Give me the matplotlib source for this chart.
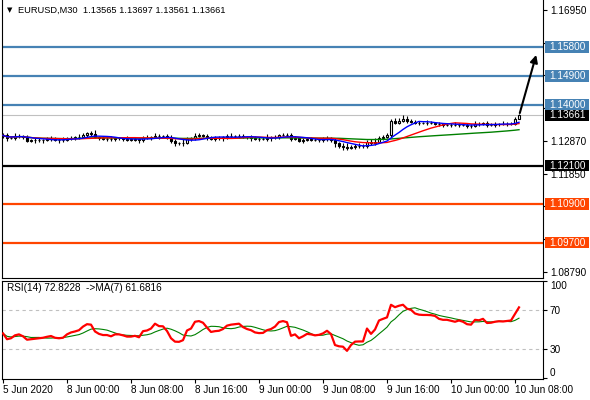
import numpy as np
import pandas as pd
import matplotlib
matplotlib.use('Agg')
import matplotlib.pyplot as plt
from matplotlib.patches import Rectangle

plt.rcParams['font.family'] = ['Liberation Sans', 'DejaVu Sans']

# --- data (EURUSD M30, 5 Jun 16:00 .. 10 Jun 08:30) ---
header = 'EURUSD,M30  1.13565 1.13697 1.13561 1.13661'
rsi_header = 'RSI(14) 72.8228  ->MA(7) 61.6816'

first_open = 1.13010
closes = [
    1.13040, 1.12960, 1.12970, 1.13010, 1.13025, 1.12995, 1.12880, 1.12885, 1.12888, 1.12892,
    1.12900, 1.12920, 1.12935, 1.12905, 1.12885, 1.12895, 1.12950, 1.12965, 1.12975, 1.12995,
    1.13060, 1.13100, 1.13095, 1.12990, 1.12950, 1.12935, 1.12935, 1.12920, 1.12945, 1.12945,
    1.12930, 1.12910, 1.12910, 1.12920, 1.12890, 1.12960, 1.12965, 1.12985, 1.13035, 1.13015,
    1.13012, 1.12960, 1.12860, 1.12800, 1.12795, 1.12815, 1.12930, 1.12955, 1.13030, 1.13045,
    1.13035, 1.12990, 1.12940, 1.12950, 1.12955, 1.12975, 1.13010, 1.13020, 1.13025, 1.13030,
    1.12990, 1.12975, 1.12960, 1.12935, 1.12928, 1.12930, 1.12960, 1.12975, 1.13000, 1.13050,
    1.13065, 1.13055, 1.12930, 1.12945, 1.12880, 1.12895, 1.12915, 1.12910, 1.12898, 1.12905,
    1.12920, 1.12950, 1.12905, 1.12790, 1.12720, 1.12690, 1.12647, 1.12690, 1.12720, 1.12718,
    1.12722, 1.12840, 1.12790, 1.12840, 1.12960, 1.13000, 1.13040, 1.13480, 1.13440, 1.13500,
    1.13551, 1.13489, 1.13470, 1.13440, 1.13430, 1.13420, 1.13428, 1.13420, 1.13410, 1.13380,
    1.13372, 1.13378, 1.13368, 1.13360, 1.13378, 1.13365, 1.13340, 1.13335, 1.13400, 1.13395,
    1.13415, 1.13370, 1.13378, 1.13390, 1.13398, 1.13395, 1.13402, 1.13410, 1.13565, 1.13661,
]
# wick length beyond the body, in pips
wick_up = [
    8, 6, 4, 9, 6, 4, 7, 4, 8, 6, 4, 6, 8, 4, 6, 10, 4, 7, 4, 8,
    6, 4, 7, 10, 4, 6, 4, 8, 6, 4, 6, 8, 4, 6, 4, 7, 10, 4, 8, 6,
    4, 6, 8, 6, 4, 10, 6, 4, 8, 6, 4, 6, 4, 8, 6, 4, 7, 10, 4, 6,
    6, 4, 8, 6, 4, 6, 12, 4, 6, 4, 6, 4, 7, 8, 4, 6, 4, 8, 6, 4,
    6, 8, 4, 6, 4, 7, 10, 4, 6, 8, 4, 6, 8, 12, 6, 4, 6, 8, 10, 8,
    11, 8, 6, 4, 6, 4, 8, 6, 4, 6, 4, 6, 4, 8, 6, 4, 6, 4, 8, 6,
    4, 6, 4, 6, 4, 8, 6, 4, 6, 3.6,
]
wick_dn = [
    6, 8, 4, 6, 4, 8, 6, 4, 7, 4, 8, 4, 6, 4, 8, 6, 4, 6, 8, 4,
    4, 6, 8, 4, 6, 4, 8, 6, 4, 6, 8, 4, 6, 4, 8, 6, 4, 6, 4, 8,
    6, 4, 6, 8, 4, 10, 4, 8, 6, 4, 6, 8, 4, 6, 4, 8, 6, 4, 6, 8,
    4, 6, 8, 4, 6, 4, 6, 8, 4, 6, 4, 8, 6, 4, 6, 8, 4, 6, 4, 6,
    8, 4, 6, 10, 6, 12, 6, 4, 8, 6, 6, 8, 4, 6, 4, 6, 4, 6, 4, 6,
    4, 6, 4, 6, 8, 4, 6, 4, 6, 4, 6, 4, 6, 4, 6, 4, 8, 6, 4, 6,
    4, 6, 4, 8, 6, 4, 6, 4, 6, 0.4,
]
rsi_values = [
    46, 40, 41, 44, 45, 43, 39.5, 40, 40.5, 41,
    41.5, 42.5, 43.3, 41.5, 41, 41.5, 45, 47, 48, 49.3,
    53, 55.5, 55, 48, 45.5, 44.3, 44.3, 43, 45, 45,
    44, 42.7, 42.7, 43.5, 42, 48.3, 49, 51, 56, 53.5,
    53.3, 48.5, 41, 37.5, 37.3, 39, 49, 51, 58, 58.7,
    57, 52, 47.5, 48.3, 48.7, 50.5, 54, 55, 55.5, 56,
    52.5, 50.5, 49.3, 47, 46.3, 46.5, 49.3, 50.5, 53, 57.7,
    58.7, 57.5, 43.5, 45, 41, 43, 45.5, 45, 44, 44.5,
    46, 48.7, 45.3, 34, 32.7, 32.3, 28, 34, 37.5, 37.7,
    37.7, 51, 45.5, 50, 59.3, 61, 62.5, 75.5, 73, 74.5,
    75.5, 71.5, 70.3, 66.5, 65.3, 65, 65, 64.8, 64, 61,
    60, 60, 59, 58, 59.3, 58, 55.5, 55, 60, 59.5,
    61, 56.7, 57, 58, 58.5, 58.3, 58.8, 59.3, 66, 72.82,
]

blue_levels = [1.15800, 1.14900, 1.14000]
black_levels = [1.12100]
orange_levels = [1.10900, 1.09700]
last_price = 1.13661
arrow_target = 1.1555

price_ticks = [1.16950, 1.15930, 1.14910, 1.13890, 1.12870,
               1.11850, 1.10830, 1.09810, 1.08790]
# tick labels that sit under a highlighted level label are left blank
hidden_ticks = [1.15930, 1.14910, 1.13890, 1.10830, 1.09810]
rsi_ticks = [0, 30, 70, 100]
time_labels = ['5 Jun 2020', '8 Jun 00:00', '8 Jun 08:00', '8 Jun 16:00',
               '9 Jun 00:00', '9 Jun 08:00', '9 Jun 16:00', '10 Jun 00:00',
               '10 Jun 08:00']
time_label_bars = [0, 16, 32, 48, 64, 80, 96, 112, 128]

# --- derived series ---
close_s = pd.Series(closes)
opens = [first_open] + closes[:-1]
pip = 0.0001
highs = [max(o, c) + w * pip for o, c, w in zip(opens, closes, wick_up)]
lows = [min(o, c) - w * pip for o, c, w in zip(opens, closes, wick_dn)]
ma_blue = close_s.rolling(8, min_periods=1).mean()
ma_red = close_s.rolling(17, min_periods=1).mean()
ma_green = close_s.rolling(50, min_periods=1).mean()
rsi_ma = pd.Series(rsi_values).rolling(7, min_periods=1).mean()
x = np.arange(len(closes))

W, H = 590, 400
fig = plt.figure(figsize=(W / 100, H / 100), dpi=100)
ax = fig.add_axes([2 / W, 1 - 278 / H, 541 / W, 278 / H])
ax_rsi = fig.add_axes([2 / W, 1 - 379 / H, 541 / W, 98 / H], sharex=ax)

STEEL = '#4682B4'
ORANGE = '#FF4500'
LABEL_FS = 7.2

# horizontal levels
for lv in blue_levels:
    ax.axhline(lv, color=STEEL, lw=1.6, zorder=2)
for lv in black_levels:
    ax.axhline(lv, color='black', lw=1.6, zorder=2)
for lv in orange_levels:
    ax.axhline(lv, color=ORANGE, lw=1.6, zorder=2)
ax.axhline(last_price, color='#C0C0C0', lw=0.8, zorder=1)

# candles
ax.vlines(x, lows, highs, color='black', lw=0.8, zorder=3)
for xi, o, c in zip(x, opens, closes):
    bottom = min(o, c)
    height = max(abs(c - o), 0.00006)
    face = 'white' if c >= o else 'black'
    ax.bar(xi, height, 0.6, bottom, color=face, edgecolor='black',
           linewidth=0.8, zorder=3)

# moving averages
ax.plot(x, ma_green, color='#008000', lw=1.0, zorder=4)
ax.plot(x, ma_red, color='#FF0000', lw=1.0, zorder=4)
ax.plot(x, ma_blue, color='#0000FF', lw=1.0, zorder=4)

# arrow
ax.annotate('', xy=(x[-1] + 4.3, arrow_target), xytext=(x[-1] + 0.2, highs[-1] + 0.0004),
            arrowprops=dict(arrowstyle='-|>', color='black', lw=1.5,
                            mutation_scale=11, shrinkA=0, shrinkB=0), zorder=5)

ax.set_xlim(-0.25, 135)
ax.set_ylim(1.08593, 1.17262)
ax.yaxis.tick_right()
ax.set_yticks(price_ticks)
ax.set_yticklabels(['' if t in hidden_ticks else f'{t:.5f}' for t in price_ticks])
ax.tick_params(axis='y', length=3, width=0.8, pad=2, labelsize=LABEL_FS)
ax.tick_params(axis='x', bottom=False, labelbottom=False)
ax.spines['top'].set_visible(False)
for sp in ['left', 'right', 'bottom']:
    ax.spines[sp].set_linewidth(0.8)

# highlighted price labels on the right
ytr = ax.get_yaxis_transform()
box_h = 0.0036


def price_box(price, color):
    ax.add_patch(Rectangle((1 + 1.5 / 541, price - box_h / 2), 44 / 541, box_h,
                           transform=ytr, facecolor=color, edgecolor='none',
                           clip_on=False, zorder=6))
    ax.text(1 + 6 / 541, price, f'{price:.5f}', transform=ytr, color='white',
            fontsize=LABEL_FS, va='center', ha='left', clip_on=False, zorder=7)


for lv in blue_levels:
    price_box(lv, STEEL)
for lv in orange_levels:
    price_box(lv, ORANGE)
for lv in black_levels:
    price_box(lv, 'black')
price_box(last_price, 'black')

# RSI panel
ax_rsi.axhline(70, color='#C0C0C0', lw=0.8, ls=(0, (3, 3)), zorder=1)
ax_rsi.axhline(30, color='#C0C0C0', lw=0.8, ls=(0, (3, 3)), zorder=1)
ax_rsi.plot(x, rsi_ma, color='#008000', lw=0.8, zorder=2)
ax_rsi.plot(x, rsi_values, color='#FF0000', lw=1.6, zorder=3)
ax_rsi.set_ylim(-1, 100)
ax_rsi.yaxis.tick_right()
ax_rsi.set_yticks(rsi_ticks)
ax_rsi.set_yticklabels([str(t) for t in rsi_ticks])
ax_rsi.tick_params(axis='y', length=3, width=0.8, pad=2, labelsize=LABEL_FS)
labs = ax_rsi.get_yticklabels()
labs[0].set_va('bottom')
labs[-1].set_va('top')
ax_rsi.set_xticks(time_label_bars)
ax_rsi.set_xticklabels(time_labels, ha='left')
ax_rsi.tick_params(axis='x', length=3, width=0.8, pad=1, labelsize=LABEL_FS)
for sp in ax_rsi.spines.values():
    sp.set_linewidth(0.8)

ax_rsi.text(5 / 541, 1 - 7 / 98, rsi_header, transform=ax_rsi.transAxes,
            fontsize=LABEL_FS, va='center', ha='left')

fig.text(7 / W, 1 - 10 / H, '\u25bc', fontsize=5, family='DejaVu Sans',
         va='center', ha='left')
fig.text(18 / W, 1 - 10 / H, header, fontsize=6.7, va='center', ha='left')

fig.savefig('out.png', dpi=100)
